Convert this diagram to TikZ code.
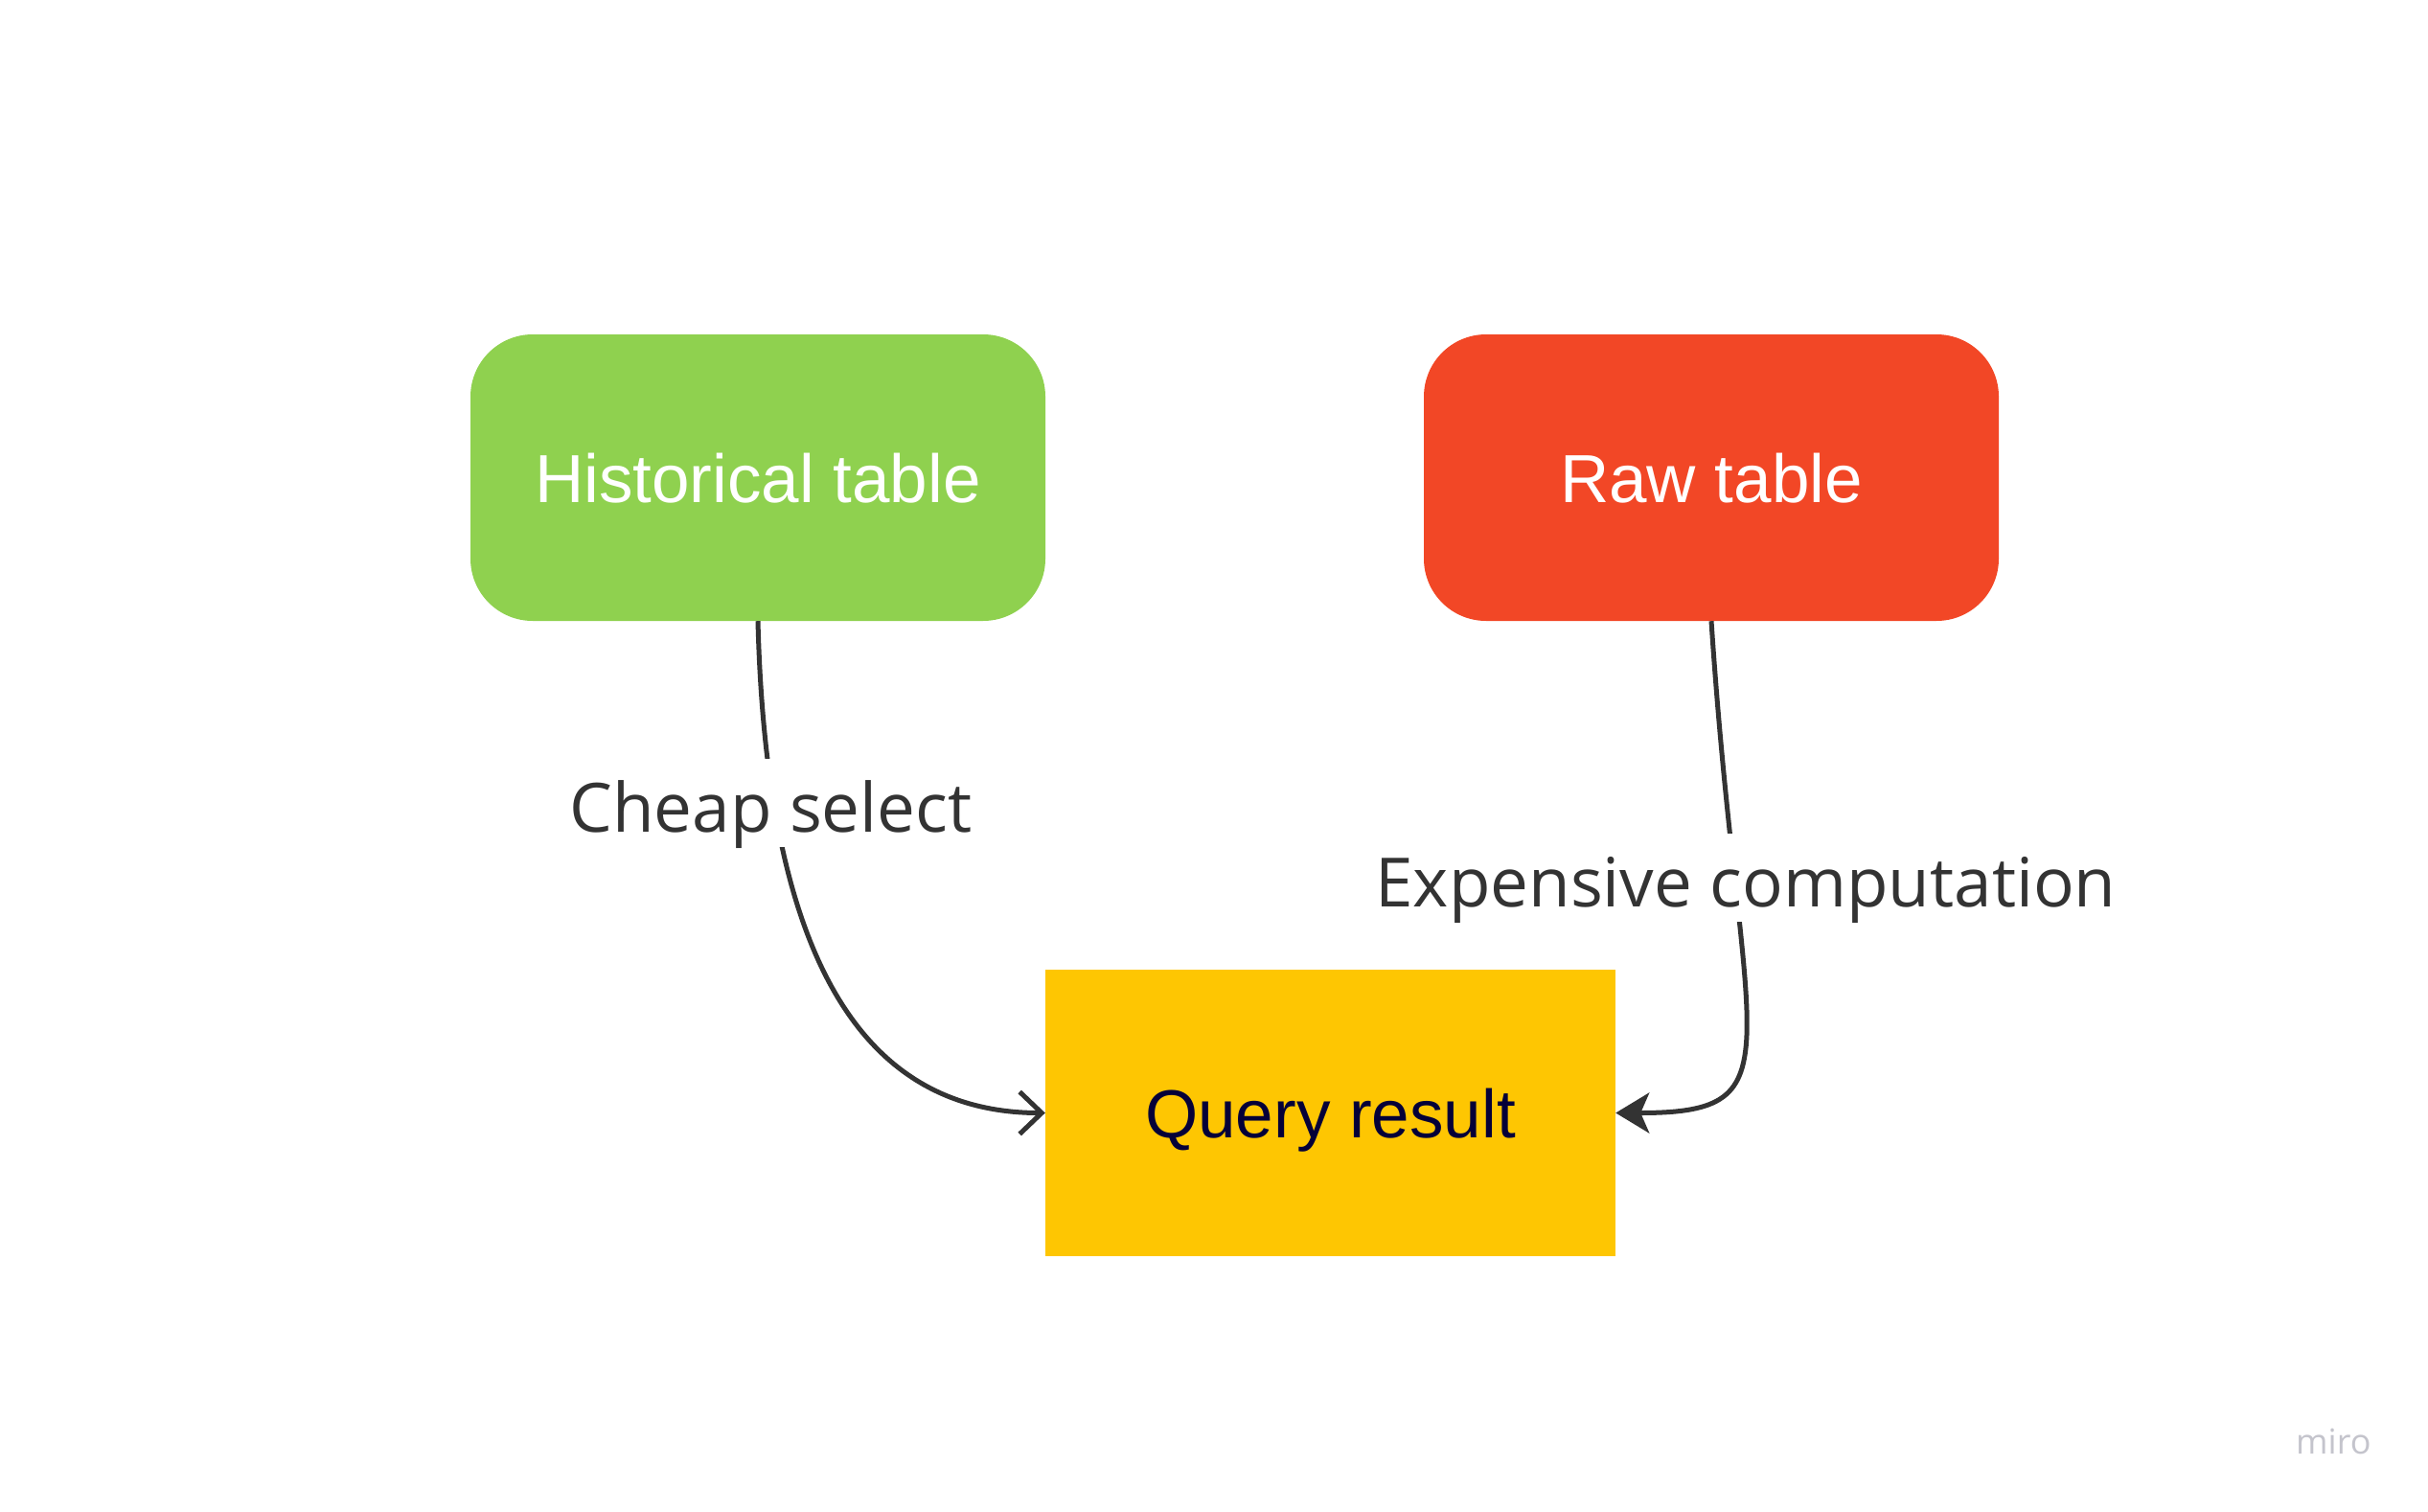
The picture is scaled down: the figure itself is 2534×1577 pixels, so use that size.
\documentclass[tikz,border=0pt]{standalone}
\usepackage{fontspec}
\setmainfont{Liberation Sans}
\newfontfamily\labelfont{Open Sans}
\usetikzlibrary{arrows.meta}
\definecolor{mgreen}{HTML}{8FD14F}
\definecolor{mred}{HTML}{F24726}
\definecolor{myellow}{HTML}{FEC602}
\definecolor{mnavy}{HTML}{050038}
\definecolor{mline}{HTML}{333333}
\definecolor{mlogo}{HTML}{C4C4CC}
\begin{document}
\begin{tikzpicture}[x=1pt,y=-1pt,
  box/.style={draw=none, minimum width=600pt, minimum height=299pt, inner sep=0pt,
    font=\fontsize{71}{85}\selectfont, text height=51pt, text depth=0pt},
  roundbox/.style={box, rounded corners=65pt},
  conn/.style={draw=mline, line width=5pt},
  lbl/.style={fill=white, text=mline, font=\labelfont\fontsize{71}{85}\selectfont,
    inner xsep=8pt, inner ysep=0pt, text height=76pt, text depth=16pt}
]
\path[use as bounding box, fill=white] (0,0) rectangle (2534,1577);
\node[roundbox, fill=mgreen, text=white] (hist) at (791,498.5) {Historical table};
\node[roundbox, fill=mred, text=white] (raw) at (1786,498.5) {Raw table};
\node[box, minimum width=595pt, fill=myellow, text=mnavy] (query) at (1388.5,1161.5) {Query result};

\draw[conn, -{Straight Barb[length=23pt, width=44pt, line width=5pt]}]
  (hist.south) .. controls +(9,352) and +(-191,0) .. (query.west);
\draw[conn, -{Stealth[length=35pt, width=42pt, inset=9pt]}]
  (raw.south) .. controls +(30,452) and +(194,0) .. (query.east);

\node[lbl, anchor=base] (cheap) at (804.5,868) {Cheap select};
\node[lbl, anchor=base] (exp) at (1822,946) {Expensive computation};

\node[font=\labelfont\fontsize{36}{40}\selectfont, text=mlogo, anchor=base west, inner sep=0pt] (logo) at (2396,1517) {miro};
\end{tikzpicture}
\end{document}
